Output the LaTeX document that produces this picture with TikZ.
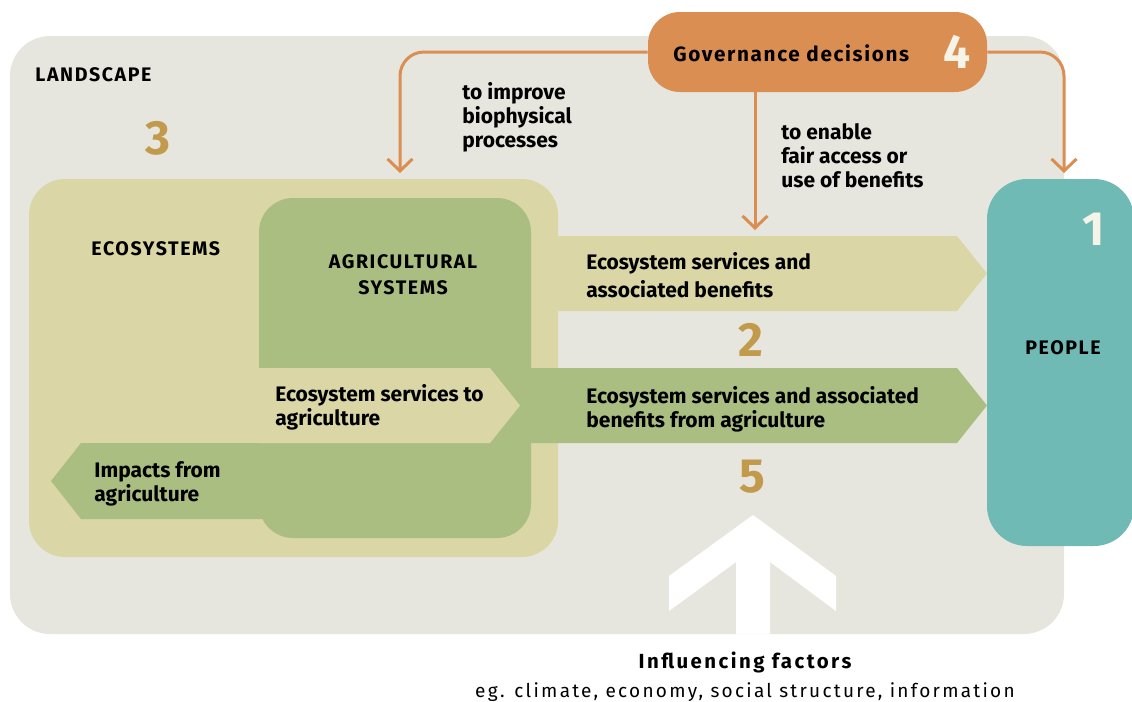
\documentclass[tikz,border=0pt]{standalone}
\usepackage{fontspec}
\setmainfont{Fira Sans}
\newfontfamily\trackfont{Fira Sans}[LetterSpace=8]
\newfontfamily\widefont{Fira Sans}[LetterSpace=12]
\usetikzlibrary{positioning,arrows.meta}
\definecolor{landGrey}{HTML}{E6E6DE}
\definecolor{ecoSand}{HTML}{DAD6A6}
\definecolor{agriGreen}{HTML}{ABBE82}
\definecolor{peopleTeal}{HTML}{6FBAB5}
\definecolor{govOrange}{HTML}{DA8E52}
\definecolor{numGold}{HTML}{C29A4C}
\definecolor{numWhite}{HTML}{F6F3E8}

\begin{document}
\begin{tikzpicture}[x=0.5pt, y=-0.5pt,
      box/.style={inner sep=0pt, draw=none},
      txt/.style={font=\bfseries\fontsize{10.5}{12}\selectfont, align=left, inner sep=0pt, anchor=west},
      caps/.style={font=\trackfont\bfseries\fontsize{9.8}{13}\selectfont, align=center, inner sep=0pt},
      num/.style={font=\bfseries\fontsize{24}{24}\selectfont, text=numGold, inner sep=0pt},
      govarrow/.style={-{Straight Barb[length=6pt,width=12.5pt]}, draw=govOrange, line width=1.5pt, rounded corners=12pt}]
    \useasboundingbox (0,0) rectangle (1132,702);
    % background boxes
    \node[box, fill=landGrey, rounded corners=20pt, minimum width=527pt, minimum height=299pt] (land) at (537,335) {};
    \node[box, fill=ecoSand, rounded corners=18pt, minimum width=264.5pt, minimum height=189pt] (eco) at (293.5,368) {};
    \fill[ecoSand] (540,236) -- (957,236) -- (987,273.5) -- (957,311) -- (540,311) -- cycle;
    \node[box, fill=agriGreen, rounded corners=17pt, minimum width=136pt, minimum height=170pt] (agr) at (395,368) {};
    \fill[agriGreen] (500,368) -- (957,368) -- (987,405.5) -- (957,443) -- (500,443) -- cycle;
    \fill[agriGreen] (300,443) -- (81,443) -- (51,481) -- (81,519) -- (300,519) -- cycle;
    \fill[ecoSand] (259,368) -- (490,368) -- (520,405.5) -- (490,443) -- (259,443) -- cycle;
    \node[box, fill=peopleTeal, rounded corners=20pt, minimum width=73.5pt, minimum height=183.5pt] (ppl) at (1060.5,362.5) {};
    \fill[white] (753,515) -- (836,576) -- (836,611) -- (770,562) -- (770,634)
      -- (736,634) -- (736,562) -- (669,611) -- (669,576) -- cycle;
    % governance
    \node[box, fill=govOrange, rounded corners=16pt, minimum width=169.5pt, minimum height=40pt] (gov) at (817.5,52) {};
    \node[anchor=west, inner sep=0pt, font=\trackfont\bfseries\fontsize{10.35}{13}\selectfont] (govTxt) at (673,53.5) {Governance decisions};
    \node[num, text=numWhite] (nFour) at (957,52) {4};
    \coordinate (ecoIn) at (400,173);
    \coordinate (agrIn) at (755,230);
    \coordinate (pplIn) at (1064,173);
    \draw[govarrow] (gov.west) -| (ecoIn);
    \draw[govarrow] (gov.south -| agrIn) -- (agrIn);
    \draw[govarrow] (gov.east) -| (pplIn);
    \node[txt] (improveTxt) at (462,117) {to improve\\biophysical\\processes};
    \node[txt] (enableTxt) at (781,156) {to enable\\fair access or\\use of benefits};
    % labels
    \node[caps] (landLbl) at (93.5,74.5) {LANDSCAPE};
    \node[caps, anchor=west] (ecoLbl) at (91,248.5) {ECOSYSTEMS};
    \node[caps] (agrLbl) at (403,275) {AGRICULTURAL\\SYSTEMS};
    \node[caps] (pplLbl) at (1063,348) {PEOPLE};
    \node[num] (nThree) at (158,138) {3};
    \node[num] (nTwo) at (751,340) {2};
    \node[num] (nFive) at (752,477) {5};
    \node[num, text=numWhite] (nOne) at (1094,229) {1};
    \node[txt, font=\bfseries\fontsize{10.5}{14}\selectfont] (esTxt) at (586,275) {Ecosystem services and\\associated benefits};
    \node[txt] (esAgrTxt) at (586,409) {Ecosystem services and associated\\benefits from agriculture};
    \node[txt] (toAgrTxt) at (275,407) {Ecosystem services to\\agriculture};
    \node[txt] (impTxt) at (94,484) {Impacts from\\agriculture};
    % influencing factors
    \node[inner sep=0pt, font=\widefont\bfseries\fontsize{10.2}{12}\selectfont] (inflTxt) at (745,662) {Influencing factors};
    \node[inner sep=0pt, font=\widefont\fontsize{9.5}{12}\selectfont, below=7pt of inflTxt.base] (egTxt) {eg. climate, economy, social structure, information};
  \end{tikzpicture}
\end{document}
